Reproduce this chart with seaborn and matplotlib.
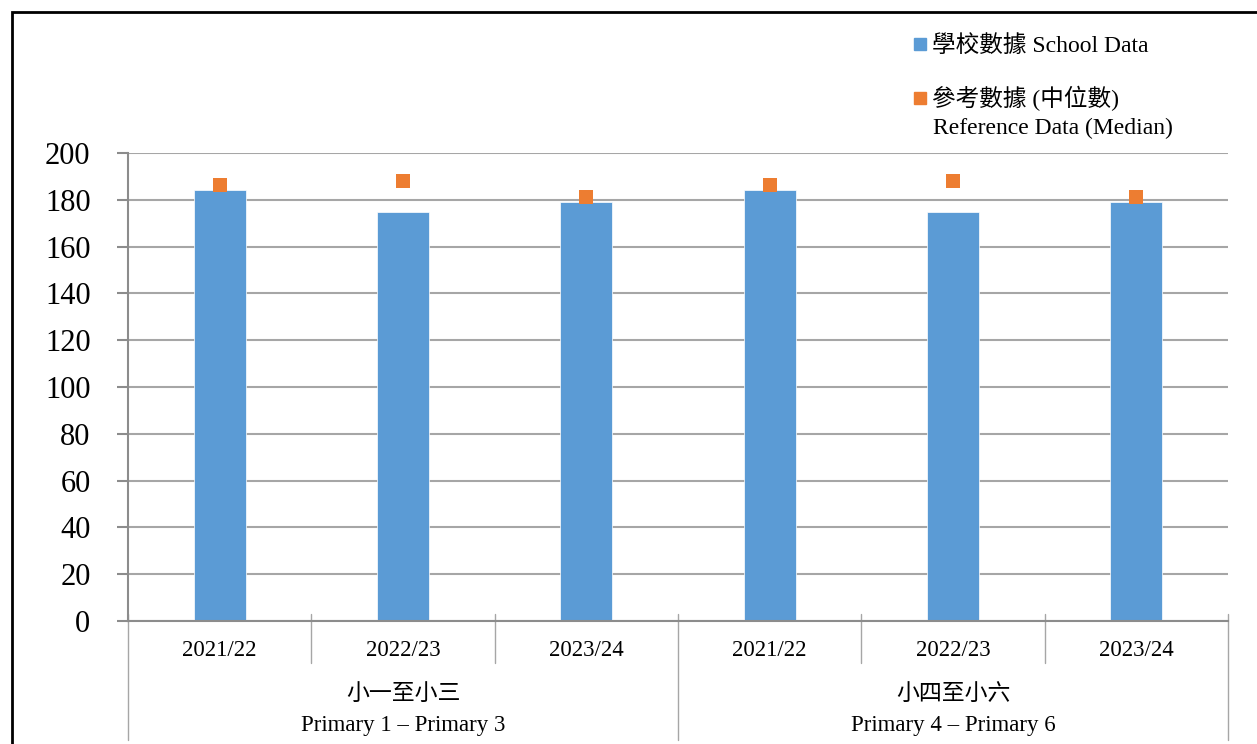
"""
學校數據 vs 參考數據 (中位數) - 分組柱狀圖
"""

import matplotlib.pyplot as plt
import matplotlib.lines as mlines
import matplotlib.patches as mpatches
import numpy as np
import pandas as pd
import seaborn as sns

# 數據
years = ['2021/22', '2022/23', '2023/24']
groups_zh = ['小一至小三', '小四至小六']
groups_en = ['Primary 1 – Primary 3', 'Primary 4 – Primary 6']
school_data = [184, 175, 179, 184, 175, 179]
reference_data = [186.5, 188, 181, 186.5, 188, 181]

BLUE = '#5B9BD5'
ORANGE = '#ED7D31'
GREY = '#A6A6A6'

sns.set_style("white")
plt.rcParams['font.family'] = ['Liberation Serif', 'Noto Sans CJK TC', 'DejaVu Sans']
plt.rcParams['text.color'] = 'black'
plt.rcParams['ytick.labelcolor'] = 'black'

W, H = 1257, 744
AX_L, AX_R, AX_T, AX_B = 128, 1228, 153, 621

df = pd.DataFrame({
    'key': [f'{g}|{y}' for g in groups_en for y in years],
    'year': years * len(groups_en),
    'school': school_data,
    'reference': reference_data,
})

fig = plt.figure(figsize=(W / 100, H / 100), dpi=100)
ax = fig.add_axes([AX_L / W, 1 - AX_B / H, (AX_R - AX_L) / W, (AX_B - AX_T) / H])

sns.barplot(data=df, x='key', y='school', color=BLUE, width=0.284,
            saturation=1, edgecolor='white', linewidth=0.5, ax=ax, zorder=2)
sns.stripplot(data=df, x='key', y='reference', color=ORANGE, marker='s',
              size=10, jitter=False, linewidth=0, ax=ax, zorder=3)

ax.set_xlim(-0.5, len(df) - 0.5)
ax.set_ylim(0, 200)
ax.set_yticks(np.arange(0, 201, 20))
ax.grid(axis='y', color=GREY, linewidth=1.5, zorder=0)
ax.set_axisbelow(True)
ax.set_xlabel('')
ax.set_ylabel('')
ax.tick_params(axis='x', bottom=False, labelbottom=False)
ax.tick_params(axis='y', left=True, length=8, width=1.5, color='#8C8C8C',
               labelsize=22, pad=19)
for side in ['top', 'right']:
    ax.spines[side].set_visible(False)
for side in ['left', 'bottom']:
    ax.spines[side].set_color('#8C8C8C')
    ax.spines[side].set_linewidth(1.5)


def ay(py):
    # 像素 y -> 坐標軸 y
    return (AX_B - py) / (AX_B - AX_T)


trans = ax.get_xaxis_transform()

# 年份標籤
for i, yr in enumerate(df['year']):
    ax.text(i, ay(651), yr, transform=trans, ha='center', va='center', fontsize=16.5)

# 組別標籤
n = len(years)
for g in range(len(groups_en)):
    xc = g * n + (n - 1) / 2
    ax.text(xc, ay(694), groups_zh[g], transform=trans, ha='center', va='center', fontsize=16.5)
    ax.text(xc, ay(725), groups_en[g], transform=trans, ha='center', va='center', fontsize=16.5)

# 分隔線
for b in range(len(df) + 1):
    bottom = 740 if b % n == 0 else 663
    ax.add_line(mlines.Line2D([b - 0.5, b - 0.5], [ay(614), ay(bottom)], transform=trans,
                              color=GREY, linewidth=1, clip_on=False))

# 圖例
handles = [
    mlines.Line2D([], [], marker='s', linestyle='', color=BLUE, markersize=9),
    mlines.Line2D([], [], marker='s', linestyle='', color=ORANGE, markersize=9),
]
labels = ['學校數據 School Data', '參考數據 (中位數)']
fig.legend(handles, labels, loc='upper left', bbox_to_anchor=(911 / W, 1 - 35 / H),
           frameon=False, fontsize=17, handlelength=0.8, handletextpad=0.1,
           labelspacing=1.22, borderpad=0, borderaxespad=0)
fig.text(933 / W, 1 - 128 / H, 'Reference Data (Median)', ha='left', va='center', fontsize=17)

# 外框
fig.patches.append(mpatches.Rectangle((12 / W, -0.5), 2, 1 - 12 / H + 0.5,
                                      transform=fig.transFigure, fill=False,
                                      edgecolor='black', linewidth=2))

fig.savefig('out.png', dpi=100)
plt.close(fig)
